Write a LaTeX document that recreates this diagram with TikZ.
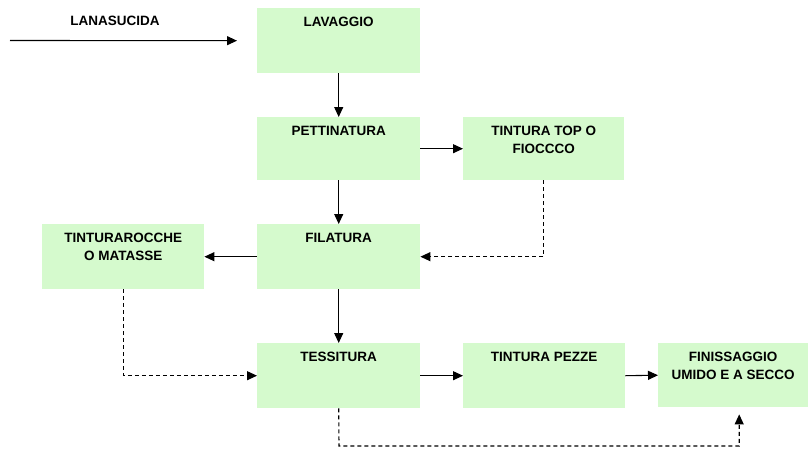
\documentclass[tikz,border=0pt]{standalone}
\usepackage{fontspec}
\setmainfont{Liberation Sans}
\usetikzlibrary{arrows.meta,calc}
\definecolor{boxgreen}{RGB}{213,250,205}
\tikzset{
  stepbox/.style={fill=boxgreen, draw=none, inner sep=0pt, anchor=north west},
  boxtext/.style={font=\bfseries\fontsize{13.5}{18}\selectfont, align=center, inner sep=0pt, anchor=north},
  arr/.style={line width=1.1pt, -{Triangle[length=10pt,width=9pt]}},
  darr/.style={line width=1.1pt, dash pattern=on 4pt off 3pt, -{Triangle[length=10pt,width=9pt]}}
}
\newcommand{\stepnode}[6]{%
  \node[stepbox, minimum width=#4pt, minimum height=#5pt] (#1) at (#2,#3) {};
  \node[boxtext] (#1t) at ($(#1.north)+(0,-9pt)$) {#6};
}
\begin{document}
\begin{tikzpicture}[x=1pt,y=-1pt]
\useasboundingbox (0,0) rectangle (808,450);
\stepnode{lav}{257}{8}{163}{65}{LAVAGGIO}
\stepnode{pet}{257}{117}{163}{63}{PETTINATURA}
\stepnode{top}{463}{117}{161}{63}{TINTURA TOP O\\FIOCCCO}
\stepnode{fil}{257}{224}{163}{65}{FILATURA}
\stepnode{roc}{42}{224}{162}{65}{TINTURAROCCHE\\O MATASSE}
\stepnode{tes}{257}{343}{163}{65}{TESSITURA}
\stepnode{pez}{463}{343}{162}{65}{TINTURA PEZZE}
\stepnode{fin}{658}{343}{150}{64}{FINISSAGGIO\\UMIDO E A SECCO}
\node[boxtext] (lana) at (115,16) {LANASUCIDA};
\coordinate (in) at (10,40.5);
\coordinate (bot) at (339,446);
\draw[arr, shorten >=20pt] (in) -- (lav.west);
\draw[arr] (lav.south) -- (pet.north);
\draw[arr] (pet.east) -- (top.west);
\draw[arr] (pet.south) -- (fil.north);
\draw[darr] (top.south) |- (fil.east);
\draw[arr] (fil.west) -- (roc.east);
\draw[arr] (fil.south) -- (tes.north);
\draw[darr] (roc.south) |- (tes.west);
\draw[arr] (tes.east) -- (pez.west);
\draw[arr] (pez.east) -- (fin.west);
\draw[darr, shorten >=7pt] (tes.south) -- (bot) -| ([xshift=6pt]fin.south);
\end{tikzpicture}
\end{document}
